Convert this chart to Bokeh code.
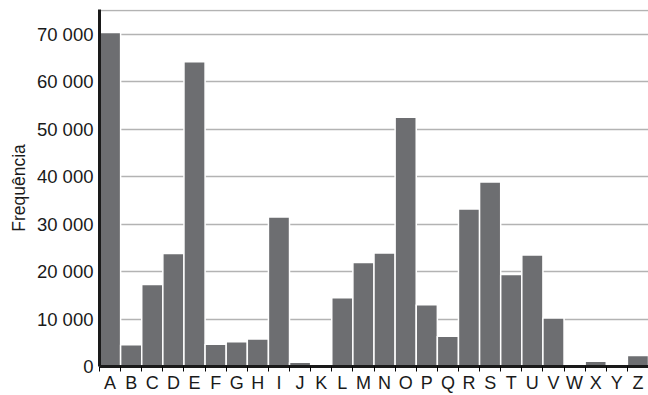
from bokeh.plotting import figure
from bokeh.models import Range1d, FixedTicker
from bokeh.embed import file_html
from bokeh.resources import INLINE

letters = list("ABCDEFGHIJKLMNOPQRSTUVWXYZ")
freq = [70400, 4600, 17300, 23800, 64200, 4700, 5200, 5800, 31500, 900, 0, 14500, 21900, 23900,
        52500, 13000, 6400, 33200, 38900, 19400, 23500, 10200, 0, 1100, 0, 2300]
y_ticks = [0, 10000, 20000, 30000, 40000, 50000, 60000, 70000]
y_labels = ["0", "10 000", "20 000", "30 000", "40 000", "50 000", "60 000", "70 000"]
y_top = 75000

centers = [i + 0.5 for i in range(len(letters))]
bounds = list(range(len(letters) + 1))

FONT = "Liberation Sans"
p = figure(width=648, height=395, output_backend="svg", toolbar_location=None,
           x_range=Range1d(0, len(letters)), y_range=Range1d(0, y_top * 1.003))
p.min_border_top = 9
p.min_border_right = 0
p.min_border_left = 99
p.min_border_bottom = 0
p.outline_line_color = None
p.background_fill_color = "white"

p.vbar(x=centers, top=freq, width=1, fill_color="#6d6e71", line_color="white", line_width=1.5)

# x axis
p.xaxis.ticker = FixedTicker(ticks=centers, minor_ticks=bounds)
p.xaxis.major_label_overrides = {c: l for c, l in zip(centers, letters)}
p.xaxis.major_tick_out = 0
p.xaxis.major_tick_in = 0
p.xaxis.minor_tick_out = 5
p.xaxis.minor_tick_in = 0
p.xaxis.minor_tick_line_color = "black"
p.xaxis.minor_tick_line_width = 1
p.xaxis.axis_line_color = "#1a1a1a"
p.xaxis.axis_line_width = 3
p.xaxis.major_label_text_font = FONT
p.xaxis.major_label_text_font_size = "18px"
p.xaxis.major_label_text_color = "#1a1a1a"
p.xaxis.major_label_standoff = 1
p.xgrid.visible = False

# y axis
p.yaxis.ticker = FixedTicker(ticks=y_ticks)
p.yaxis.major_label_overrides = {t: l for t, l in zip(y_ticks, y_labels)}
p.yaxis.major_tick_out = 0
p.yaxis.major_tick_in = 0
p.yaxis.minor_tick_out = 0
p.yaxis.minor_tick_in = 0
p.yaxis.axis_line_color = "#1a1a1a"
p.yaxis.axis_line_width = 3
p.yaxis.major_label_text_font = FONT
p.yaxis.major_label_text_font_size = "18.5px"
p.yaxis.major_label_text_color = "#1a1a1a"
p.yaxis.major_label_standoff = 6
p.yaxis.axis_label = "Frequência"
p.yaxis.axis_label_text_font = FONT
p.yaxis.axis_label_text_font_size = "17.5px"
p.yaxis.axis_label_text_font_style = "normal"
p.yaxis.axis_label_text_color = "#1a1a1a"
p.yaxis.axis_label_standoff = 5

p.ygrid.ticker = FixedTicker(ticks=y_ticks[1:] + [y_top])
p.ygrid.grid_line_color = "#b3b3b3"
p.ygrid.grid_line_width = 1.5

open("out.html", "w").write(file_html(p, INLINE))
